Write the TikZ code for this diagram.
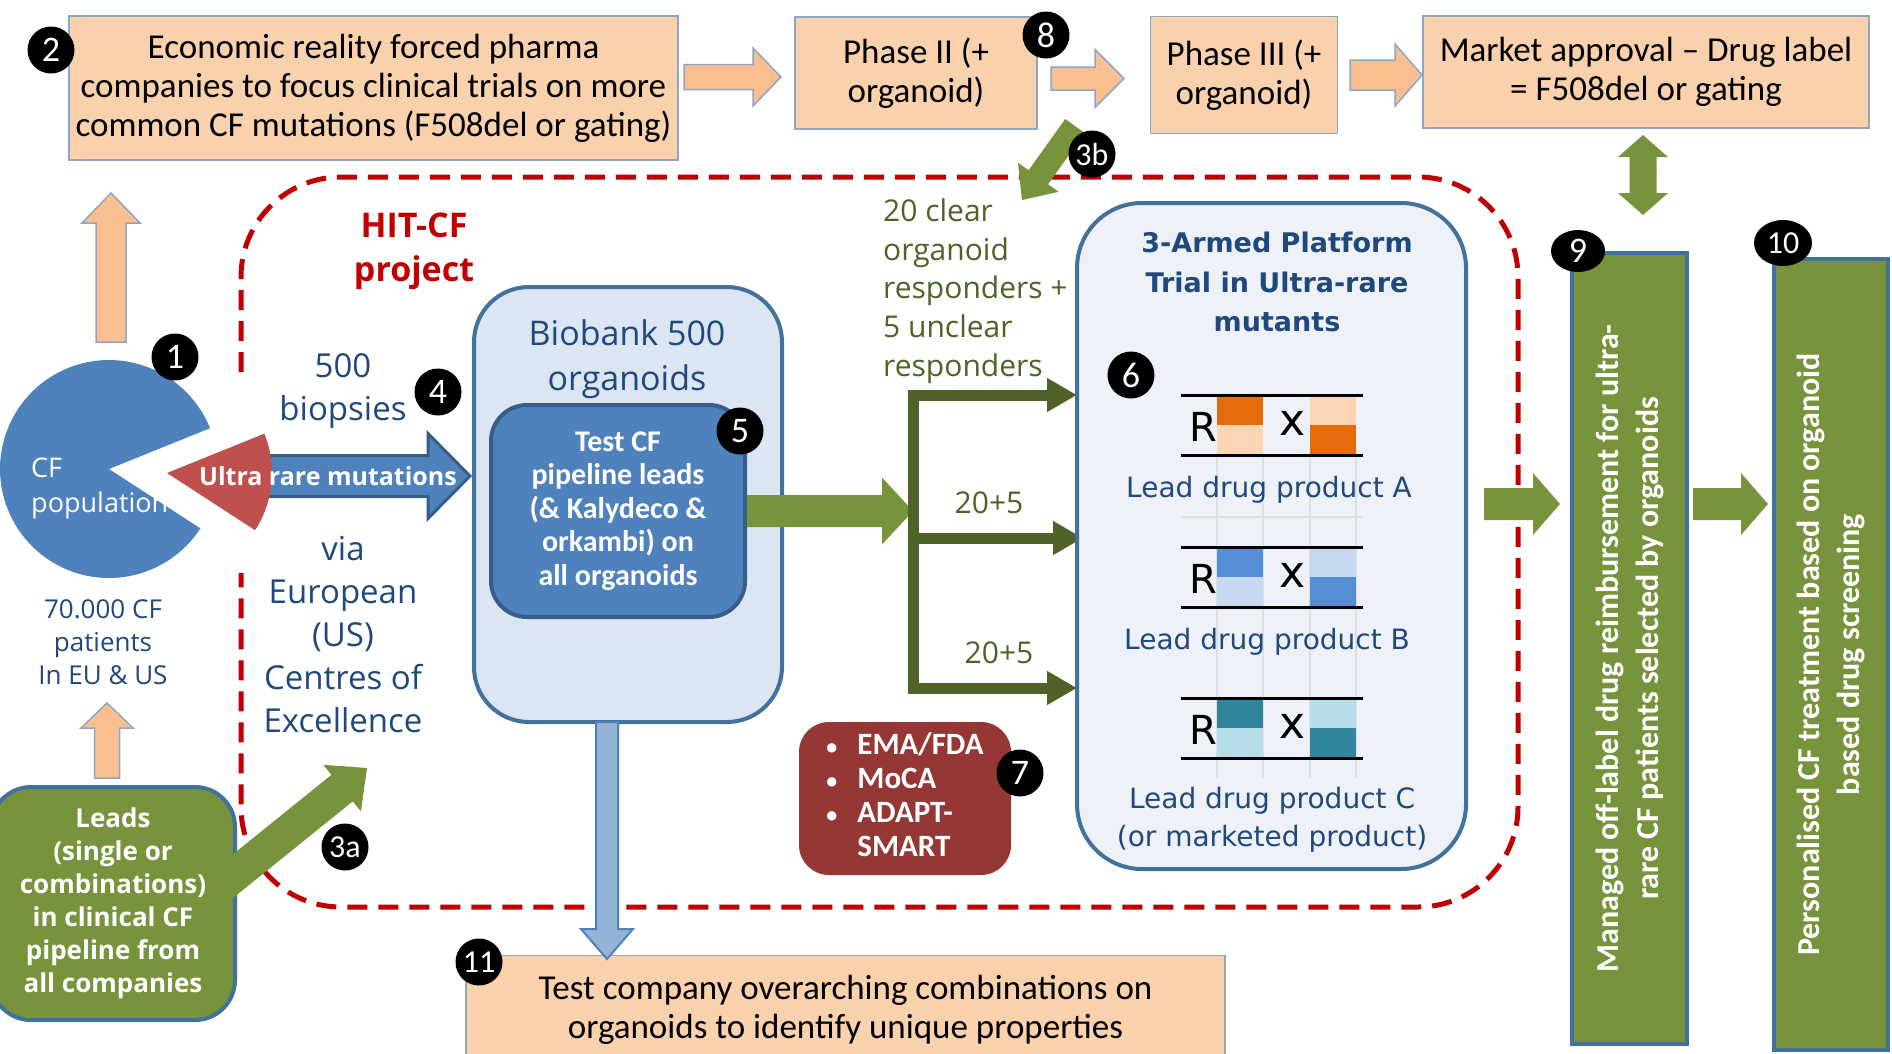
\documentclass[tikz,border=0pt]{standalone}
\usepackage{fontspec}
\setmainfont{Carlito}
\newfontfamily\segoe{Open Sans}
\newfontfamily\verd{DejaVu Sans}
\usetikzlibrary{calc, arrows.meta, shapes.geometric}

\definecolor{peach}{HTML}{FAD1AD}
\definecolor{peacharrow}{HTML}{F9BF91}
\definecolor{peachline}{HTML}{8EA6C6}
\definecolor{cfblue}{HTML}{4F81BD}
\definecolor{cfblueline}{HTML}{385D8A}
\definecolor{cfred}{HTML}{C0504D}
\definecolor{hitred}{HTML}{C00000}
\definecolor{navy}{HTML}{1F497D}
\definecolor{leafgreen}{HTML}{77933C}
\definecolor{olive}{HTML}{4F6228}
\definecolor{boxline}{HTML}{41719C}
\definecolor{bankfill}{HTML}{DCE6F2}
\definecolor{trialfill}{HTML}{EEF2F8}
\definecolor{wine}{HTML}{953735}
\definecolor{steel}{HTML}{95B3D7}
\definecolor{orgdark}{HTML}{E46C0A}
\definecolor{orglight}{HTML}{FCD5B5}
\definecolor{bludark}{HTML}{558ED5}
\definecolor{blulight}{HTML}{C6D9F1}
\definecolor{teadark}{HTML}{31859C}
\definecolor{tealight}{HTML}{B7DDE8}

\tikzset{
  frame/.style={draw=hitred, line width=5pt, dash pattern=on 20pt off 11pt, rounded corners=100pt},
  peachbox/.style={draw=peachline, line width=1.5pt, fill=peach, align=center, inner sep=0pt, font=\fontsize{35}{39}\selectfont},
  peacharr/.style={draw=peachline, line width=1.5pt, fill=peacharrow},
  greenarr/.style={fill=leafgreen},
  greenbar/.style={draw=boxline, line width=4pt, fill=leafgreen, text=white, align=center, inner sep=0pt, font=\bfseries\fontsize{32}{40}\selectfont},
  badge/.style={circle, fill=black, text=white, inner sep=0pt, minimum size=47pt, font=\fontsize{36}{36}\selectfont},
  bluetext/.style={text=navy, align=center, font=\segoe\fontsize{33}{43}\selectfont},
  branch/.style={draw=olive, line width=11pt},
  armtip/.style={-{Triangle[length=30pt, width=32pt]}},
  leadtext/.style={text=navy, align=center, font=\verd\fontsize{28}{38}\selectfont}
}

\newcommand{\blkarrow}[6]{%
  \coordinate (hb) at ($(#3)!#6!(#2)$);
  \path[#1] ($(#2)!#4!90:(#3)$) -- ($(hb)!#4!-90:(#2)$) -- ($(hb)!#5!-90:(#2)$) -- (#3)
    -- ($(hb)!#5!90:(#2)$) -- ($(hb)!#4!90:(#2)$) -- ($(#2)!#4!-90:(#3)$) -- cycle;}
\newcommand{\smallbullet}{{\fontsize{22}{22}\selectfont\textbullet}}

\begin{document}
\begin{tikzpicture}[x=1pt, y=-1pt]
\useasboundingbox (0,0) rectangle (1892,1053);
\fill[white] (0,0) rectangle (1892,1053);
\draw[frame] (241,372) -- (241,177) -- (1518,177) -- (1518,907) -- (241,907) -- (241,573);

\node[peachbox, minimum width=609pt, minimum height=144pt] (econ) at (373.5,88) {Economic reality forced pharma\\companies to focus clinical trials on more\\common CF mutations (F508del or gating)};
\node[peachbox, minimum width=242pt, minimum height=112pt] (ph2) at (916,73) {Phase II (+\\organoid)};
\node[peachbox, minimum width=187pt, minimum height=117pt] (ph3) at (1244,75) {Phase III (+\\organoid)};
\node[peachbox, minimum width=446pt, minimum height=112pt] (mkt) at (1646,72) {Market approval -- Drug label\\= F508del or gating};

\coordinate (a1t) at (684,77);
\coordinate (a1h) at (781,77);
\coordinate (a2t) at (1051,78.5);
\coordinate (a2h) at (1124,78.5);
\coordinate (a3t) at (1350,75);
\coordinate (a3h) at (1422,75);
\blkarrow{peacharr}{a1t}{a1h}{12.5pt}{29pt}{28pt}
\blkarrow{peacharr}{a2t}{a2h}{11.5pt}{29pt}{29pt}
\blkarrow{peacharr}{a3t}{a3h}{15pt}{31pt}{27pt}

\coordinate (pie) at (109,469);
\coordinate (slice) at (167,473);
\coordinate (up1t) at (111,342);
\coordinate (up1h) at (111,193);
\blkarrow{peacharr}{up1t}{up1h}{15pt}{29pt}{30pt}

\coordinate (rare) at (255,476);
\coordinate (rareh) at (470,476);
\blkarrow{fill=cfblue, draw=cfblueline, line width=3pt}{rare}{rareh}{20.5pt}{42.5pt}{42pt}
\fill[cfblue] (pie) -- plot[domain=33:338, samples=90] ({109+109*cos(\x)}, {469+109*sin(\x)}) -- cycle;
\fill[cfred] (slice) -- plot[domain=-22:33, samples=30] ({167+105*cos(\x)}, {473+105*sin(\x)}) -- cycle;
\node[anchor=west, align=left, text=white, inner sep=0pt, font=\segoe\fontsize{27}{35}\selectfont] (cfpop) at (31,488) {CF\\population};
\node[text=white, inner sep=0pt, font=\segoe\bfseries\fontsize{25}{25}\selectfont] (ultra) at (328,476) {Ultra rare mutations};

\node[bluetext, font=\segoe\fontsize{26}{33}\selectfont] (patients) at (103,642) {70.000 CF\\patients\\In EU \& US};
\node[bluetext] (biopsies) at (343,391) {500\\biopsies};
\node[bluetext] (via) at (343,635) {via\\European\\(US)\\Centres of\\Excellence};
\node[text=hitred, align=center, font=\segoe\bfseries\fontsize{34}{44}\selectfont] (hit) at (414,251) {HIT-CF\\project};

\node[draw=boxline, line width=4pt, fill=bankfill, rounded corners=55pt, minimum width=308pt, minimum height=435pt] (bank) at (628,504.5) {};
\node[bluetext, font=\segoe\fontsize{34}{45}\selectfont] (banktxt) at (627,359) {Biobank 500\\organoids};
\node[draw=cfblueline, line width=4pt, fill=cfblue, rounded corners=36pt, minimum width=254pt, minimum height=212pt, text=white, align=center, font=\bfseries\fontsize{30}{33.5}\selectfont] (screen) at (618,511) {Test CF\\pipeline leads\\(\& Kalydeco \&\\orkambi) on\\all organoids};

\node[anchor=west, align=left, inner sep=0pt, text=olive, font=\segoe\fontsize{30}{38.75}\selectfont] (resp) at (883,291) {20 clear\\organoid\\responders +\\5 unclear\\responders};
\node[text=olive, font=\segoe\fontsize{30}{30}\selectfont] (armBtxt) at (989,503) {20+5};
\node[text=olive, font=\segoe\fontsize{30}{30}\selectfont] (armCtxt) at (999,653) {20+5};

\coordinate (fork) at (913,511);
\coordinate (forkA) at (913,395);
\coordinate (forkB) at (913,538);
\coordinate (forkC) at (913,688);
\coordinate (armA) at (1077,395);
\coordinate (armB) at (1083,538);
\coordinate (armC) at (1077,688);
\blkarrow{greenarr}{screen.east}{fork}{16pt}{33.5pt}{31pt}
\draw[branch, {Triangle[length=30pt, width=32pt]}-{Triangle[length=30pt, width=32pt]}] (armA) -- (forkA) -- (forkC) -- (armC);
\draw[branch, armtip] (forkB) -- (armB);

\node[draw=boxline, line width=4pt, fill=trialfill, rounded corners=65pt, minimum width=389pt, minimum height=666pt] (trial) at (1271.5,536) {};
\node[text=navy, align=center, font=\verd\bfseries\fontsize{27}{39.5}\selectfont] (trialtitle) at (1277,282) {3-Armed Platform\\Trial in Ultra-rare\\mutants};
\draw[gray!25, line width=1.5pt] (1217,455) -- (1217,778) (1263,455) -- (1263,778) (1310,455) -- (1310,778) (1356,455) -- (1356,778) (1181,517) -- (1363,517);
\foreach \t/\dk/\lt in {395/orgdark/orglight, 547/bludark/blulight, 698/teadark/tealight} {
  \fill[\dk] (1217,\t) rectangle (1263,{\t+30});
  \fill[\lt] (1217,{\t+30}) rectangle (1263,{\t+60});
  \fill[\lt] (1310,\t) rectangle (1356,{\t+30});
  \fill[\dk] (1310,{\t+30}) rectangle (1356,{\t+60});
  \draw[line width=3pt] (1181,\t) -- (1363,\t) (1181,{\t+60}) -- (1363,{\t+60});
  \node[font=\verd\fontsize{40}{40}\selectfont] (r\t) at (1203,{\t+32}) {R};
  \node[font=\verd\fontsize{44}{44}\selectfont] (x\t) at (1293,{\t+28}) {x};
}
\node[leadtext] (leadA) at (1269,490) {Lead drug product A};
\node[leadtext] (leadB) at (1267,642) {Lead drug product B};
\node[leadtext] (leadC) at (1272,820) {Lead drug product C\\(or marketed product)};

\node[fill=wine, rounded corners=30pt, minimum width=212pt, minimum height=153pt, text=white, font=\bfseries\fontsize{31}{34}\selectfont] (regs) at (905,798.5) {\begin{tabular}{@{}l@{\hspace{20pt}}l@{}}\smallbullet & EMA/FDA\\ \smallbullet & MoCA\\ \smallbullet & ADAPT-\\ & SMART\end{tabular}};

\node[greenbar, rotate=90, minimum width=791pt, minimum height=115pt] (reimb) at (1629.5,648.5) {Managed off-label drug reimbursement for ultra-\\rare CF patients selected by organoids};
\node[greenbar, rotate=90, minimum width=791pt, minimum height=114pt] (person) at (1831,654.5) {Personalised CF treatment based on organoid\\based drug screening};

\coordinate (outt) at (1484,504);
\coordinate (outh) at (1560,504);
\coordinate (nextt) at (1693,504);
\coordinate (nexth) at (1768,504);
\blkarrow{greenarr}{outt}{outh}{16pt}{31pt}{27pt}
\blkarrow{greenarr}{nextt}{nexth}{16pt}{31pt}{27pt}
\coordinate (labmid) at (1643,175);
\coordinate (labup) at (1643,135);
\coordinate (labdown) at (1643,215);
\blkarrow{greenarr}{labmid}{labup}{13.5pt}{25pt}{22pt}
\blkarrow{greenarr}{labmid}{labdown}{13.5pt}{25pt}{22pt}
\coordinate (backt) at (1075,126);
\coordinate (backh) at (1022,200);
\blkarrow{greenarr}{backt}{backh}{12pt}{25pt}{28pt}

\node[draw=boxline, line width=4pt, fill=leafgreen, rounded corners=40pt, minimum width=244pt, minimum height=233pt, text=white, align=center, font=\segoe\bfseries\fontsize{26}{33}\selectfont] (leads) at (113,903.5) {Leads\\(single or\\combinations)\\in clinical CF\\pipeline from\\all companies};
\coordinate (up2t) at (107,778);
\coordinate (up2h) at (107,703);
\blkarrow{peacharr}{up2t}{up2h}{12.5pt}{26pt}{25pt}
\coordinate (leadst) at (222,885);
\coordinate (leadsh) at (367,768);
\blkarrow{greenarr}{leadst}{leadsh}{17pt}{30pt}{32pt}

\node[peachbox, minimum width=759pt, minimum height=109pt] (combo) at (845.5,1010) {Test company overarching combinations on\\organoids to identify unique properties};
\coordinate (downt) at (607,722);
\coordinate (downh) at (607,959);
\blkarrow{fill=steel, draw=cfblue, line width=2pt}{downt}{downh}{11pt}{26pt}{30pt}

\node[badge] (b1) at (175,357) {1};
\node[badge] (b2) at (51,50) {2};
\node[badge, font=\fontsize{32}{32}\selectfont] (b3a) at (345,847) {3a};
\node[badge, font=\fontsize{32}{32}\selectfont] (b3b) at (1092,154) {3b};
\node[badge] (b4) at (438,392) {4};
\node[badge] (b5) at (740,431) {5};
\node[badge] (b6) at (1131,375) {6};
\node[badge] (b7) at (1020,773) {7};
\node[badge] (b8) at (1046,35) {8};
\node[badge, ellipse, minimum width=54pt, minimum height=42pt] (b9) at (1578,251) {9};
\node[badge, ellipse, minimum width=58pt, minimum height=46pt, font=\fontsize{32}{32}\selectfont] (b10) at (1783,243) {10};
\node[badge, font=\fontsize{32}{32}\selectfont] (b11) at (479,962) {11};
\end{tikzpicture}
\end{document}
